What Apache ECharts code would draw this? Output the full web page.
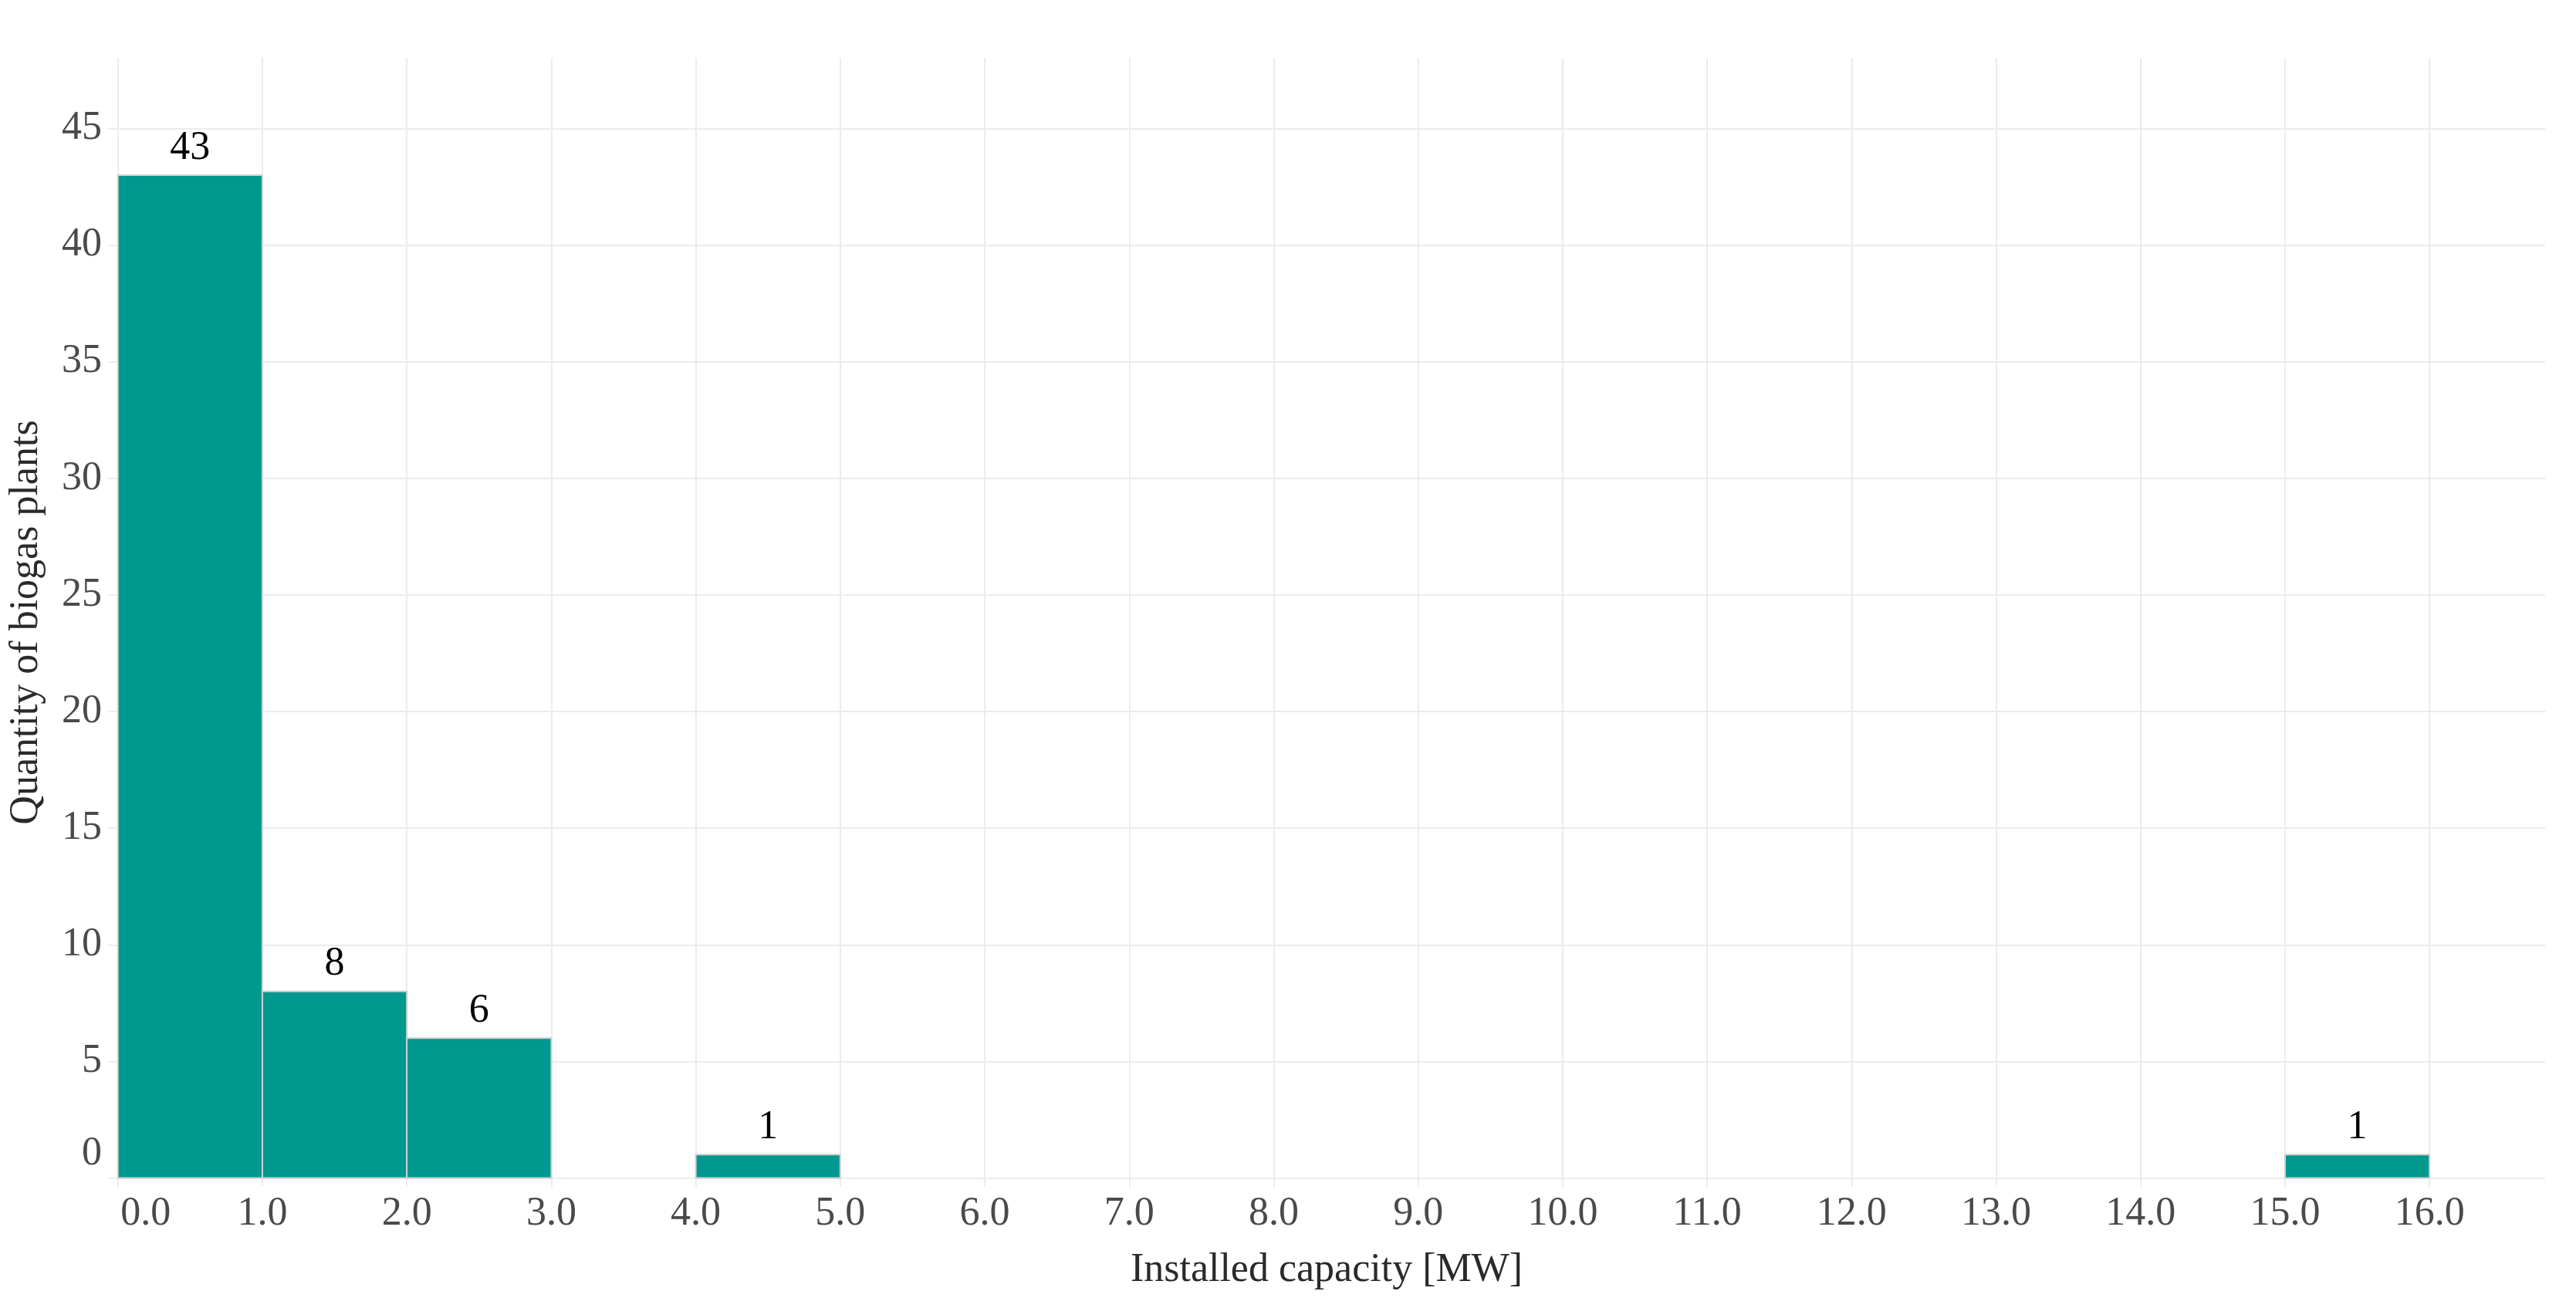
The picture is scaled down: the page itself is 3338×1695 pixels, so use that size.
<!DOCTYPE html>
<html>
<head>
<meta charset="utf-8">
<script src="https://cdn.jsdelivr.net/npm/echarts@6/dist/echarts.min.js"></script>
<style>
html,body{margin:0;padding:0;background:#fff;}
#chart{width:3338px;height:1695px;}
</style>
</head>
<body>
<div id="chart"></div>
<script>
// Histogram bins (installed capacity, MW) and counts
const binStart = [0, 1, 2, 4, 15];
const binEnd   = [1, 2, 3, 5, 16];
const counts   = [43, 8, 6, 1, 1];
const xTicks = [0,1,2,3,4,5,6,7,8,9,10,11,12,13,14,15,16];
const yTicks = [0,5,10,15,20,25,30,35,40,45];
const xTitle = 'Installed capacity [MW]';
const yTitle = 'Quantity of biogas plants';

const FONT = '"Liberation Serif", "Times New Roman", serif';
const FS = 52;
const data = binStart.map((s, i) => [s, binEnd[i], counts[i]]);

const chart = echarts.init(document.getElementById('chart'), null, {renderer: 'canvas'});
chart.setOption({
  backgroundColor: '#ffffff',
  animation: false,
  grid: {left: 140, right: 40, top: 75, bottom: 157, containLabel: false},
  xAxis: {
    type: 'value',
    min: -0.068, max: 16.8,
    name: xTitle,
    nameLocation: 'middle',
    nameGap: 82,
    nameTextStyle: {fontFamily: FONT, fontSize: FS, color: '#2a2a2a'},
    axisLine: {show: false},
    axisTick: {show: false, customValues: xTicks},
    axisLabel: {
      customValues: xTicks,
      fontFamily: FONT, fontSize: FS, color: '#4a4a4a', margin: 9,
      formatter: v => v === 0 ? '{z|0.0}' : Number(v).toFixed(1),
      rich: {z: {fontFamily: FONT, fontSize: FS, color: '#4a4a4a', padding: [0, 0, 0, 72]}}
    },
    splitLine: {show: true, lineStyle: {color: '#ececec', width: 2}}
  },
  yAxis: {
    type: 'value',
    min: -0.38, max: 48.03,
    name: yTitle,
    nameLocation: 'middle',
    nameGap: 80,
    nameTextStyle: {fontFamily: FONT, fontSize: FS, color: '#2a2a2a'},
    axisLine: {show: false},
    axisTick: {show: false, customValues: yTicks},
    axisLabel: {
      customValues: yTicks,
      fontFamily: FONT, fontSize: FS, color: '#4a4a4a', margin: 8,
      formatter: v => v === 0 ? '{z|0}' : String(v),
      rich: {z: {fontFamily: FONT, fontSize: FS, color: '#4a4a4a', padding: [0, 0, 62, 0]}}
    },
    splitLine: {show: true, lineStyle: {color: '#ececec', width: 2}}
  },
  series: [{
    type: 'custom',
    data: data,
    encode: {x: [0, 1], y: 2},
    renderItem: function (params, api) {
      const p0 = api.coord([api.value(0), 0]);
      const p1 = api.coord([api.value(1), api.value(2)]);
      return {
        type: 'rect',
        shape: {x: p0[0], y: p1[1], width: p1[0] - p0[0], height: p0[1] - p1[1]},
        style: {fill: '#00998f', stroke: '#d0d0d0', lineWidth: 2},
        textContent: {
          style: {text: String(api.value(2)), fontFamily: FONT, fontSize: FS, fill: '#000000'}
        },
        textConfig: {position: 'top', distance: 8}
      };
    }
  }]
});
</script>
</body>
</html>
